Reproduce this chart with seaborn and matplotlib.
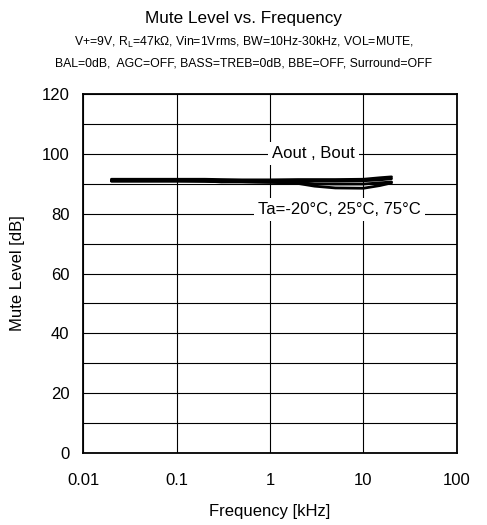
import matplotlib
matplotlib.use("Agg")
import matplotlib.pyplot as plt
import pandas as pd
import seaborn as sns
from matplotlib.ticker import MultipleLocator, FixedLocator

sns.set_style("white")
plt.rcParams["font.family"] = ["Liberation Sans", "DejaVu Sans"]
plt.rcParams["text.color"] = "black"
plt.rcParams["axes.labelcolor"] = "black"
plt.rcParams["xtick.color"] = "black"
plt.rcParams["ytick.color"] = "black"

# Frequency points [kHz]
freq = [0.02, 0.03, 0.05, 0.1, 0.2, 0.3, 0.5, 1, 2, 3, 5, 10, 15, 20]

# Mute level curves [dB] (Aout/Bout at -20, 25, 75 degC)
curve_1 = [91.5, 91.5, 91.5, 91.5, 91.5, 91.4, 91.3, 91.3, 91.4, 91.4, 91.4, 91.5, 92.0, 92.3]
curve_2 = [91.1, 91.1, 91.1, 91.1, 91.0, 90.9, 90.8, 91.0, 90.8, 91.0, 90.9, 91.0, 91.3, 91.7]
curve_3 = [90.9, 90.9, 90.9, 90.9, 90.9, 90.6, 90.7, 90.5, 90.3, 90.0, 89.9, 89.9, 90.3, 90.6]
curve_4 = [90.9, 90.9, 90.9, 90.9, 90.8, 90.7, 90.6, 90.5, 90.1, 89.2, 88.6, 88.5, 89.4, 90.3]

curves = {"c1": curve_1, "c2": curve_2, "c3": curve_3, "c4": curve_4}

df = pd.DataFrame({"freq": freq, **curves}).melt(id_vars="freq", var_name="curve", value_name="level")

fig = plt.figure(figsize=(4.87, 5.25), dpi=100)
ax = fig.add_axes([0.171, 0.137, 0.767, 0.684])

sns.lineplot(data=df, x="freq", y="level", units="curve", estimator=None,
             color="black", linewidth=2.0, ax=ax, legend=False)

ax.set_xscale("log")
ax.set_xlim(0.01, 100)
ax.set_ylim(0, 120)
ax.xaxis.set_major_locator(FixedLocator([0.01, 0.1, 1, 10, 100]))
ax.xaxis.set_minor_locator(FixedLocator([]))
ax.set_xticklabels(["0.01", "0.1", "1", "10", "100"])
ax.yaxis.set_major_locator(MultipleLocator(20))
ax.yaxis.set_minor_locator(MultipleLocator(10))
ax.grid(True, which="both", color="black", linewidth=0.8)
ax.set_axisbelow(True)
ax.tick_params(length=0, labelsize=12, pad=10)
ax.tick_params(axis="x", pad=14)
for s in ax.spines.values():
    s.set_color("black")
    s.set_linewidth(1.3)

ax.set_xlabel("Frequency [kHz]", fontsize=12, labelpad=12)
ax.set_ylabel("Mute Level [dB]", fontsize=12, labelpad=12)

ax.text(2.9, 100, "Aout , Bout", fontsize=12, ha="center", va="center",
        bbox=dict(facecolor="white", edgecolor="none", pad=3))
ax.text(5.5, 81.5, "Ta=-20°C, 25°C, 75°C", fontsize=12, ha="center", va="center",
        bbox=dict(facecolor="white", edgecolor="none", pad=3))

fig.text(0.5, 0.965, "Mute Level vs. Frequency", fontsize=12.3, ha="center", va="center")
fig.text(0.5, 0.920, "V+=9V, R$_\\mathregular{L}$=47k\u03a9, Vin=1Vrms, BW=10Hz-30kHz, VOL=MUTE,",
         fontsize=8.8, ha="center", va="center")
fig.text(0.5, 0.880, "BAL=0dB,  AGC=OFF, BASS=TREB=0dB, BBE=OFF, Surround=OFF",
         fontsize=8.8, ha="center", va="center")

fig.savefig("out.png", dpi=100)
